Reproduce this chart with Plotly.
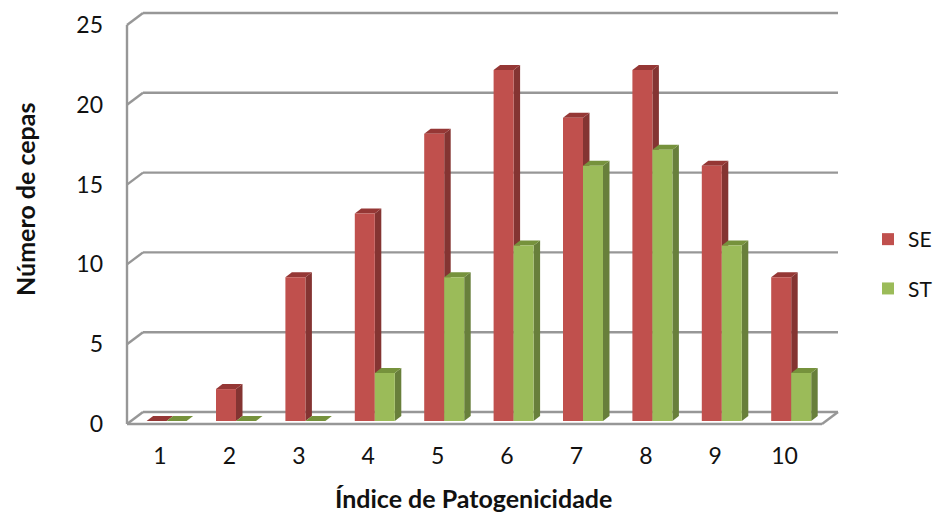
import plotly.graph_objects as go

categories = [1, 2, 3, 4, 5, 6, 7, 8, 9, 10]
se_values = [0, 2, 9, 13, 18, 22, 19, 22, 16, 9]
st_values = [0, 0, 0, 3, 9, 11, 16, 17, 11, 3]
y_ticks = [0, 5, 10, 15, 20, 25]

PAGE = 8  # the page's body margin
W, H = 944 - PAGE, 512 - PAGE
ML, MR, MT, MB = 110 - PAGE, 100, 2, 77
PX_X = 69.4   # pixels per category
PX_Y = 15.96  # pixels per unit
X_ZERO = 160 - PAGE  # pixel of category 1 label
Y_ZERO = 424 - PAGE  # pixel of value 0 label

ux = 1 / PX_X
uy = 1 / PX_Y
x_range = [1 + (ML - X_ZERO) * ux, 1 + (W - MR - X_ZERO) * ux]
y_range = [(Y_ZERO - (H - MB)) * uy, (Y_ZERO - MT) * uy]
PLOT_W = W - ML - MR
PLOT_H = H - MT - MB


def paper_x(px):
    return (px - PAGE - ML) / PLOT_W


def paper_y(px):
    return 1 - (px - PAGE - MT) / PLOT_H


BAR_W = 20 * ux
BAR_SHIFT = 6.6 * ux     # gap between label and series boundary
BAR_BASE = 3 * uy        # bars stand slightly behind the front floor edge
DX, DY = 6.5 * ux, 5 * uy
WALL_DX, WALL_DY = 16 * ux, 12 * uy
AX_L = 1 + (127 - 160) * ux
AX_R = 1 + (822 - 160) * ux

GRID = "#979797"
SE_C = ("#C0504D", "#843432", "#953735")
ST_C = ("#9BBB59", "#687F3B", "#76923C")


def poly(pts, fill):
    path = "M" + " L".join(f"{x},{y}" for x, y in pts) + " Z"
    return dict(type="path", path=path, xref="x", yref="y", layer="below",
                fillcolor=fill, line=dict(width=0))


def seg(x0, y0, x1, y1):
    return dict(type="line", x0=x0, y0=y0, x1=x1, y1=y1, xref="x", yref="y",
                layer="below", line=dict(color=GRID, width=2.4))


shapes = []
for t in y_ticks:
    shapes.append(seg(AX_L, t, AX_L + WALL_DX, t + WALL_DY))
    shapes.append(seg(AX_L + WALL_DX, t + WALL_DY, AX_R + WALL_DX, t + WALL_DY))
shapes.append(seg(AX_L, 0, AX_L, y_ticks[-1]))
shapes.append(seg(AX_L, 0, AX_R, 0))
shapes.append(seg(AX_R, 0, AX_R + WALL_DX, WALL_DY))


def faces(values, offset, colors):
    out = []
    for c, v in zip(categories, values):
        x0 = c + BAR_SHIFT + offset
        x1 = x0 + BAR_W
        y0 = BAR_BASE
        y1 = BAR_BASE + v
        out.append(poly([(x1, y0), (x1 + DX, y0 + DY), (x1 + DX, y1 + DY), (x1, y1)], colors[1]))
        out.append(poly([(x0, y1), (x0 + DX, y1 + DY), (x1 + DX, y1 + DY), (x1, y1)], colors[2]))
    return out


shapes += faces(se_values, -BAR_W, SE_C)
shapes += faces(st_values, 0, ST_C)

fig = go.Figure()
fig.add_bar(x=[c + BAR_SHIFT - BAR_W / 2 for c in categories], y=se_values, base=BAR_BASE,
            width=BAR_W, name="SE", legendgroup="SE", marker=dict(color=SE_C[0], line_width=0))
fig.add_bar(x=[c + BAR_SHIFT + BAR_W / 2 for c in categories], y=st_values, base=BAR_BASE,
            width=BAR_W, name="ST", legendgroup="ST", marker=dict(color=ST_C[0], line_width=0))

FONT = "Lato, Carlito, Calibri, sans-serif"
fig.update_layout(
    width=W, height=H, autosize=False,
    margin=dict(l=ML, r=MR, t=MT, b=MB, autoexpand=False),
    paper_bgcolor="white", plot_bgcolor="white",
    barmode="overlay", shapes=shapes,
    font=dict(family=FONT, size=23, color="#111111"),
    xaxis=dict(range=x_range, tickmode="array", tickvals=categories,
               ticktext=[str(c) for c in categories], showgrid=False, zeroline=False,
               showline=False, ticks="", ticklabelstandoff=5),
    yaxis=dict(range=y_range, tickmode="array", tickvals=y_ticks,
               ticktext=[str(t) for t in y_ticks], showgrid=False, zeroline=False,
               showline=False, ticks="", ticklabelstandoff=6),
    legend=dict(x=paper_x(868), y=paper_y(219), xanchor="left", yanchor="top",
                xref="paper", yref="paper", orientation="v", tracegroupgap=19,
                itemwidth=30, traceorder="grouped", bgcolor="rgba(0,0,0,0)",
                borderwidth=0, font=dict(size=21)),
    annotations=[
        dict(text="<b>Índice de Patogenicidade</b>", xref="paper", yref="paper",
             x=paper_x(473), y=paper_y(498),
             xanchor="center", yanchor="middle", showarrow=False,
             font=dict(size=25, family=FONT, color="#111111")),
        dict(text="<b>Número de cepas</b>", xref="paper", yref="paper",
             x=paper_x(25), y=paper_y(200),
             xanchor="center", yanchor="middle", textangle=-90, showarrow=False,
             font=dict(size=25, family=FONT, color="#111111")),
    ],
)
fig.write_html("out.html")
